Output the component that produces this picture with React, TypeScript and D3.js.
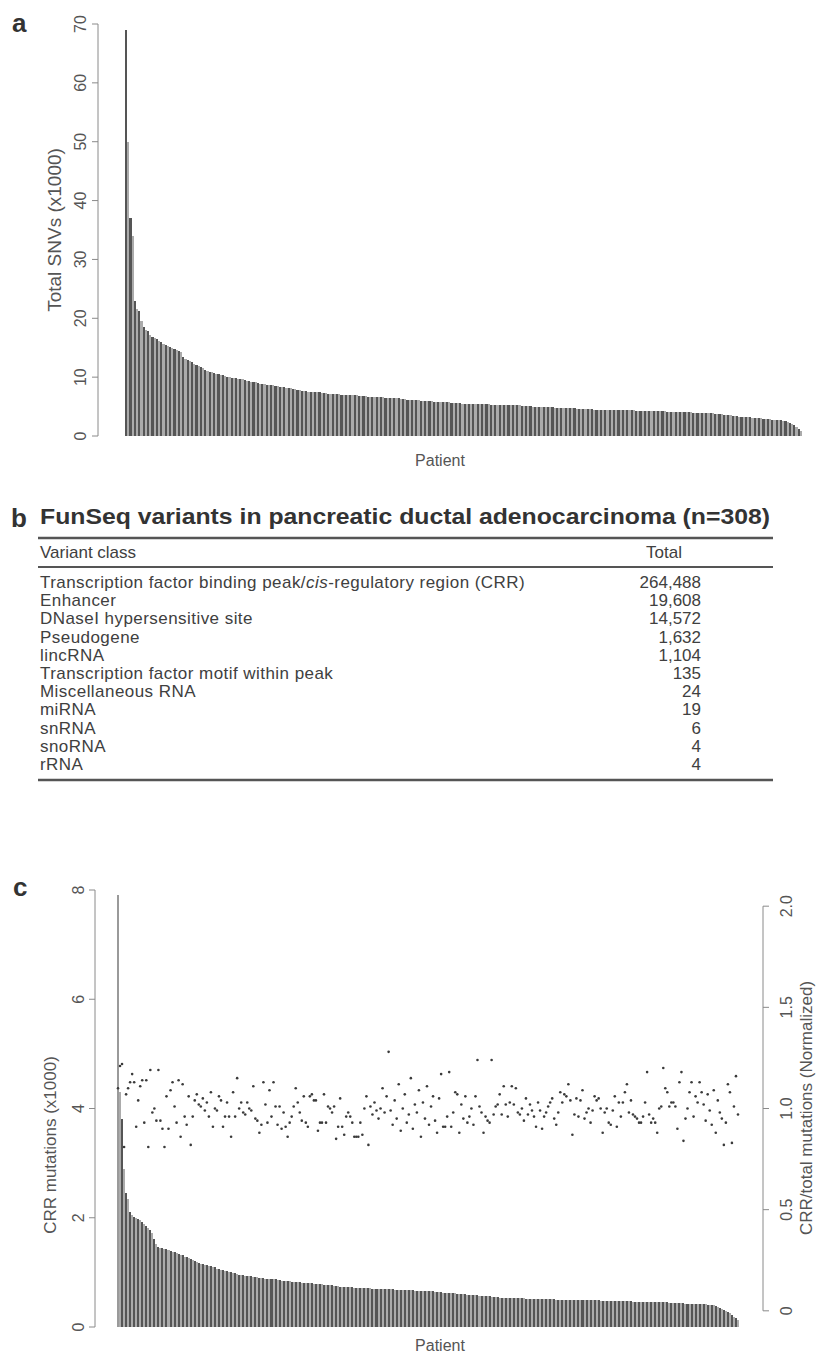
import React from 'react';
import * as d3 from 'd3';

// panel a: total SNVs per patient (x1000), sorted
const totalSnvs = [
  69, 50, 37, 34, 23, 21.5, 21.2, 19.5, 18.5, 18, 17.8, 17.2, 16.9, 16.7,
  16.4, 16.1, 15.9, 15.7, 15.5, 15.3, 15.2,
  15.0, 14.8, 14.6, 14.4, 14.2,
  13.5, 13.1, 12.9,
  12.7, 12.5, 12.3, 12.1, 11.9, 11.8,
  11.5, 11.2, 11.0, 10.9,
  10.8, 10.7, 10.6, 10.5, 10.4, 10.3, 10.2, 10.1,
  10.0, 9.9, 9.9, 9.8, 9.7, 9.6, 9.6, 9.5,
  9.4, 9.3, 9.2, 9.2, 9.1, 9.0, 8.9, 8.9, 8.8,
  8.7, 8.7, 8.6, 8.6, 8.5, 8.5, 8.4, 8.4, 8.3, 8.2, 8.2, 8.1,
  8.0, 8.0, 7.9, 7.8, 7.7, 7.7, 7.6, 7.5,
  7.5, 7.5, 7.4, 7.4, 7.4, 7.3, 7.3, 7.3, 7.2, 7.2, 7.2, 7.1, 7.1, 7.1, 7.0, 7.0, 7.0, 7.0,
  6.9, 6.9, 6.9, 6.9, 6.8, 6.8, 6.8, 6.8, 6.7, 6.7, 6.7, 6.7, 6.6, 6.6, 6.6, 6.6, 6.5, 6.5, 6.5, 6.5, 6.4, 6.4, 6.4,
  6.3, 6.3, 6.3, 6.2, 6.2, 6.2, 6.1, 6.1, 6.1, 6.0, 6.0, 6.0, 5.9, 5.9, 5.9, 5.8, 5.8, 5.8, 5.7, 5.7, 5.7,
  5.7, 5.7, 5.6, 5.6, 5.6, 5.6, 5.6, 5.5, 5.5, 5.5, 5.5, 5.5, 5.5, 5.4, 5.4, 5.4, 5.4, 5.4, 5.4, 5.4,
  5.3, 5.3, 5.3, 5.3, 5.3, 5.3, 5.3, 5.3,
  5.25, 5.2, 5.2, 5.2, 5.2, 5.2, 5.1, 5.1, 5.1, 5.1, 5.1, 5.0, 5.0, 5.0, 5.0, 5.0,
  4.9, 4.9, 4.9, 4.9, 4.9, 4.8, 4.8, 4.8, 4.8, 4.8, 4.7, 4.7, 4.7, 4.7, 4.7, 4.6, 4.6, 4.6, 4.6,
  4.6, 4.6, 4.6, 4.6, 4.5, 4.5, 4.5, 4.5, 4.5, 4.5, 4.5, 4.5, 4.4, 4.4, 4.4, 4.4, 4.4, 4.4, 4.4, 4.4,
  4.4, 4.4, 4.4, 4.3, 4.3, 4.3, 4.3, 4.3, 4.3, 4.3, 4.2, 4.2, 4.2, 4.2, 4.2, 4.2, 4.2,
  4.1, 4.1, 4.1, 4.1, 4.1, 4.1, 4.0, 4.0, 4.0, 4.0, 4.0, 4.0, 3.95, 3.95, 3.95, 3.9, 3.9, 3.9, 3.9, 3.85, 3.85, 3.85,
  3.8, 3.75, 3.7, 3.7, 3.6, 3.6, 3.5, 3.5, 3.45, 3.4, 3.35, 3.3,
  3.3, 3.25, 3.2, 3.2, 3.15, 3.1, 3.1, 3.05, 3.0, 3.0, 2.95, 2.9, 2.9, 2.85, 2.8, 2.8, 2.75, 2.7, 2.7,
  2.6, 2.5, 2.3, 2.2, 2.0,
  1.8, 1.5, 1.2, 0.9,
];
const snvTicks = [0, 10, 20, 30, 40, 50, 60, 70];

// panel b: table
const variantClasses = [
  'Transcription factor binding peak/cis-regulatory region (CRR)',
  'Enhancer',
  'DNaseI hypersensitive site',
  'Pseudogene',
  'lincRNA',
  'Transcription factor motif within peak',
  'Miscellaneous RNA',
  'miRNA',
  'snRNA',
  'snoRNA',
  'rRNA',
];
const variantTotals = ['264,488', '19,608', '14,572', '1,632', '1,104', '135', '24', '19', '6', '4', '4'];

// panel c: CRR mutations per patient (x1000), same order as bars
const crrMutations = [
  7.9, 4.3, 3.8, 2.9, 2.45, 2.35, 2.1, 2.05, 2.02, 2.0, 1.98, 1.95, 1.92, 1.88, 1.85, 1.82,
  1.78, 1.72, 1.62, 1.52, 1.46,
  1.45, 1.44, 1.43, 1.42, 1.41, 1.40, 1.38, 1.37, 1.35, 1.34, 1.32, 1.31, 1.29,
  1.28, 1.27, 1.25, 1.23, 1.21, 1.19, 1.17,
  1.16, 1.15, 1.14, 1.13, 1.12, 1.11, 1.10, 1.09, 1.07, 1.06,
  1.05, 1.04, 1.03, 1.02, 1.01, 1.00, 0.99, 0.98, 0.97, 0.96,
  0.95, 0.95, 0.94, 0.94, 0.93, 0.93, 0.92, 0.91, 0.91, 0.90, 0.90, 0.89, 0.88,
  0.88, 0.88, 0.87, 0.87, 0.87, 0.86, 0.86, 0.85, 0.85, 0.85, 0.84, 0.84, 0.83, 0.83, 0.83, 0.82,
  0.82, 0.81, 0.81, 0.81, 0.80, 0.80, 0.80, 0.79, 0.79, 0.78, 0.78, 0.78, 0.77, 0.77, 0.76, 0.76, 0.76,
  0.75, 0.75, 0.75, 0.74, 0.74, 0.74, 0.74, 0.73, 0.73, 0.73, 0.72, 0.72, 0.72, 0.72, 0.71, 0.71, 0.71,
  0.71, 0.71, 0.70, 0.70, 0.70, 0.70, 0.70, 0.69, 0.69, 0.69, 0.69, 0.69, 0.69, 0.68, 0.68, 0.68,
  0.68, 0.68, 0.67, 0.67, 0.67, 0.67, 0.67, 0.66, 0.66, 0.66, 0.66, 0.66, 0.65, 0.65, 0.65,
  0.65, 0.65, 0.64, 0.64, 0.64, 0.64, 0.63, 0.63, 0.63, 0.63, 0.62, 0.62, 0.62, 0.61, 0.61,
  0.60, 0.60, 0.60, 0.59, 0.59, 0.59, 0.58, 0.58, 0.58, 0.57, 0.57, 0.57, 0.56, 0.56, 0.56, 0.55, 0.55, 0.55, 0.55, 0.54,
  0.54, 0.54, 0.54, 0.54, 0.54, 0.53, 0.53, 0.53, 0.53, 0.53, 0.53, 0.53, 0.52, 0.52, 0.52, 0.52, 0.52, 0.52, 0.52,
  0.51, 0.51, 0.51, 0.51, 0.51, 0.51, 0.51, 0.51, 0.50, 0.50, 0.50, 0.50, 0.50, 0.50, 0.50, 0.50, 0.50,
  0.49, 0.49, 0.49, 0.49, 0.49, 0.49, 0.49, 0.49, 0.49, 0.49, 0.49, 0.49, 0.49,
  0.48, 0.48, 0.48, 0.48, 0.48, 0.48, 0.48, 0.48, 0.47, 0.47, 0.47, 0.47, 0.47, 0.47, 0.47, 0.47,
  0.46, 0.46, 0.46, 0.46, 0.46, 0.46, 0.46, 0.46, 0.46, 0.45, 0.45, 0.45, 0.45, 0.45, 0.45, 0.45, 0.45, 0.45,
  0.44, 0.44, 0.44, 0.44, 0.44, 0.44, 0.44, 0.44, 0.43, 0.43, 0.43, 0.43, 0.43, 0.43, 0.43, 0.43,
  0.43, 0.42, 0.42, 0.41, 0.41, 0.40, 0.40, 0.39,
  0.37, 0.35, 0.33, 0.31, 0.29, 0.27, 0.25, 0.22, 0.19, 0.16, 0.13,
];
const crrTicks = [0, 2, 4, 6, 8];

// panel c: CRR / total mutations (normalized), one point per patient
const crrRatio = [
  1.10, 1.21, 1.22, 0.81, 1.07, 1.10, 1.13, 1.17, 1.13, 0.91,
  1.04, 1.11, 1.14, 0.93, 1.14, 0.81, 1.19, 0.98, 1.00, 0.94,
  1.19, 0.94, 0.90, 0.81, 1.06, 0.90, 1.09, 1.13, 1.01, 0.93,
  1.14, 0.86, 1.12, 0.96, 0.92, 1.06, 0.82, 0.96, 1.04, 1.07,
  1.02, 1.01, 1.05, 0.99, 1.03, 0.96, 1.08, 0.91, 1.00, 0.99,
  1.06, 1.04, 0.91, 0.96, 1.03, 0.96, 0.86, 1.08, 0.96, 1.15,
  1.00, 1.03, 0.98, 0.97, 1.03, 1.00, 0.99, 1.11, 0.95, 0.94,
  0.88, 0.92, 1.13, 1.02, 0.93, 1.09, 0.96, 1.13, 1.01, 0.92,
  1.01, 0.90, 0.98, 0.91, 0.86, 0.93, 0.96, 1.01, 1.10, 1.03,
  0.98, 0.94, 1.06, 0.93, 0.91, 1.06, 1.07, 1.04, 1.04, 0.89,
  0.93, 0.93, 1.07, 0.93, 1.01, 1.00, 0.98, 1.01, 0.85, 0.91,
  1.05, 0.91, 0.87, 0.96, 0.98, 0.96, 0.93, 0.86, 0.86, 0.86,
  0.93, 0.87, 1.00, 1.06, 0.82, 1.01, 0.97, 1.03, 0.99, 0.95,
  1.00, 1.10, 0.98, 1.06, 1.28, 0.99, 0.92,
  1.04, 0.95, 1.12, 0.89, 1.00, 1.07, 0.93, 0.97, 1.15, 0.90,
  1.02, 0.98, 1.09, 0.86, 1.03, 0.95, 1.11, 0.92, 1.01, 1.06,
  0.94, 0.88, 1.05,
  1.17, 0.91, 0.91, 0.96, 1.18, 0.91, 0.98, 1.08, 1.07, 0.88,
  1.02, 0.95, 1.06, 0.93, 0.96, 1.00, 0.92, 1.06, 1.24, 1.01,
  0.98, 0.88, 0.96, 0.94, 0.93, 1.24, 0.97, 1.01, 1.02, 1.07,
  0.97, 1.11, 1.02, 0.96, 1.03, 1.11, 1.02, 1.10, 0.98, 0.97,
  1.00, 0.94, 1.05, 0.97, 1.02,
  0.99, 0.96, 0.91, 1.03, 0.99, 0.90, 0.96, 0.98, 1.01, 1.03,
  1.05, 0.95, 0.92, 0.98, 1.08, 1.03, 1.07, 1.06, 1.12, 1.04,
  0.87, 0.97, 1.05, 0.96, 1.04, 1.09, 0.95, 0.98, 1.00, 0.93,
  0.99, 1.06, 1.04, 1.05, 1.00, 0.88, 0.98, 1.00, 0.93, 0.92,
  0.99, 1.06, 0.91, 1.03, 0.96,
  1.03, 1.08, 1.12, 0.98, 1.04, 0.97, 0.96, 0.95, 0.93, 0.93,
  0.96, 1.03, 1.18, 0.97, 0.93, 0.95, 0.93, 0.88, 1.00, 1.01,
  1.20, 1.10, 1.08, 1.01, 1.03, 1.03, 1.01, 0.90, 1.13, 1.18,
  0.84, 0.95, 1.00, 1.08, 1.13, 0.96, 1.06, 1.03, 1.13, 1.08,
  1.02, 0.94, 1.07, 0.99, 0.92,
  1.09, 0.88, 1.04, 0.98, 0.95, 0.82, 0.93, 1.12, 1.08, 0.83,
  1.01, 1.16, 0.97,
];
const ratioTicks = [0, 0.5, 1, 1.5, 2];

const FONT = '"Liberation Sans", Arial, Helvetica, sans-serif';
const AXIS_COL = '#8a8a8a';
const TEXT_COL = '#555';
const DARK = '#555555';
const LIGHT = '#ababab';

const fmtRatio = (t: number) => (t === 0 ? '0' : t.toFixed(1));

const PanelA: React.FC = () => {
  const x = d3.scaleBand<number>().domain(d3.range(totalSnvs.length)).range([125, 802]).padding(0);
  const y = d3.scaleLinear().domain([0, 70]).range([436, 24]);
  const axisX = 98;
  return (
    <g>
      <text x={12} y={32} fontSize={26} fontWeight="bold" fill="#333">a</text>
      <line x1={axisX} x2={axisX} y1={y(0)} y2={y(70)} stroke={AXIS_COL} strokeWidth={1} />
      {snvTicks.map((t) => (
        <g key={t}>
          <line x1={axisX - 6} x2={axisX} y1={y(t)} y2={y(t)} stroke={AXIS_COL} />
          <text transform={`translate(80,${y(t)}) rotate(-90)`} textAnchor="middle" dy="0.35em"
            fontSize={16} fill={TEXT_COL}>{t}</text>
        </g>
      ))}
      <text transform={`translate(54,${(y(0) + y(70)) / 2}) rotate(-90)`} textAnchor="middle" dy="0.35em"
        fontSize={19} fill={TEXT_COL}>Total SNVs (x1000)</text>
      <g shapeRendering="crispEdges">
        {totalSnvs.map((v, i) => (
          <rect key={i} x={x(i)} width={x.bandwidth()} y={y(v)} height={y(0) - y(v)}
            fill={i % 2 ? LIGHT : DARK} />
        ))}
      </g>
      <text x={440} y={466} textAnchor="middle" fontSize={16} fill={TEXT_COL}>Patient</text>
    </g>
  );
};

const TableB: React.FC = () => {
  const rowY = d3.scaleLinear().domain([0, variantClasses.length - 1]).range([588, 770]);
  const left = 38;
  const right = 773;
  const numRight = 701;
  const rowFont = 17;
  return (
    <g fill="#404040">
      <text x={11} y={527} fontSize={26} fontWeight="bold" fill="#333">b</text>
      <text x={40} y={524} fontSize={22} fontWeight="bold" fill="#333" textLength={730}
        lengthAdjust="spacingAndGlyphs">FunSeq variants in pancreatic ductal adenocarcinoma (n=308)</text>
      <line x1={left} x2={right} y1={538} y2={538} stroke="#555" strokeWidth={2.5} />
      <text x={40} y={558} fontSize={rowFont}>Variant class</text>
      <text x={numRight - 19} y={558} fontSize={rowFont} textAnchor="end">Total</text>
      <line x1={left} x2={right} y1={567} y2={567} stroke="#555" strokeWidth={2} />
      {variantClasses.map((c, i) => (
        <g key={c}>
          <text x={40} y={rowY(i)} fontSize={rowFont} letterSpacing={0.45}>
            {c.includes('/cis-') ? (
              <>
                {c.split('/cis-')[0]}/<tspan fontStyle="italic">cis</tspan>-{c.split('/cis-')[1]}
              </>
            ) : c}
          </text>
          <text x={numRight} y={rowY(i)} fontSize={rowFont} textAnchor="end">{variantTotals[i]}</text>
        </g>
      ))}
      <line x1={left} x2={right} y1={780} y2={780} stroke="#555" strokeWidth={2.5} />
    </g>
  );
};

const PanelC: React.FC = () => {
  const x = d3.scaleBand<number>().domain(d3.range(crrMutations.length)).range([117, 739]).padding(0);
  const yL = d3.scaleLinear().domain([0, 8]).range([1327, 890]);
  const yR = d3.scaleLinear().domain([-0.08, 2.08]).range([1327, 890]);
  const leftX = 95;
  const rightX = 763;
  return (
    <g>
      <text x={13} y={896} fontSize={26} fontWeight="bold" fill="#333">c</text>
      <line x1={leftX} x2={leftX} y1={yL(0)} y2={yL(8)} stroke={AXIS_COL} />
      {crrTicks.map((t) => (
        <g key={t}>
          <line x1={leftX - 6} x2={leftX} y1={yL(t)} y2={yL(t)} stroke={AXIS_COL} />
          <text transform={`translate(78,${yL(t)}) rotate(-90)`} textAnchor="middle" dy="0.35em"
            fontSize={16} fill={TEXT_COL}>{t}</text>
        </g>
      ))}
      <text transform={`translate(50,1145) rotate(-90)`} textAnchor="middle" dy="0.35em"
        fontSize={17} fill={TEXT_COL}>CRR mutations (x1000)</text>

      <line x1={rightX} x2={rightX} y1={yR(0)} y2={yR(2)} stroke={AXIS_COL} />
      {ratioTicks.map((t) => (
        <g key={t}>
          <line x1={rightX} x2={rightX + 6} y1={yR(t)} y2={yR(t)} stroke={AXIS_COL} />
          <text transform={`translate(786,${yR(t)}) rotate(-90)`} textAnchor="middle" dy="0.35em"
            fontSize={16} fill={TEXT_COL}>{fmtRatio(t)}</text>
        </g>
      ))}
      <text transform={`translate(806,1108) rotate(-90)`} textAnchor="middle" dy="0.35em"
        fontSize={17} fill={TEXT_COL}>CRR/total mutations (Normalized)</text>

      <g shapeRendering="crispEdges">
        {crrMutations.map((v, i) => (
          <rect key={i} x={x(i)} width={x.bandwidth()} y={yL(v)} height={yL(0) - yL(v)}
            fill={i === 0 ? '#9a9a9a' : i % 2 ? LIGHT : DARK} />
        ))}
      </g>
      {crrRatio.map((v, i) => (
        <circle key={i} cx={(x(i) ?? 0) + x.bandwidth() / 2} cy={yR(v)} r={1.3} fill="#3a3a3a" />
      ))}
      <text x={440} y={1351} textAnchor="middle" fontSize={16} fill={TEXT_COL}>Patient</text>
    </g>
  );
};

export default function App() {
  return (
    <svg width={819} height={1357} viewBox="0 0 819 1357"
      style={{ position: 'absolute', left: 0, top: 0, background: '#fff' }}
      fontFamily={FONT}>
      <rect width={819} height={1357} fill="#fff" />
      <PanelA />
      <TableB />
      <PanelC />
    </svg>
  );
}
